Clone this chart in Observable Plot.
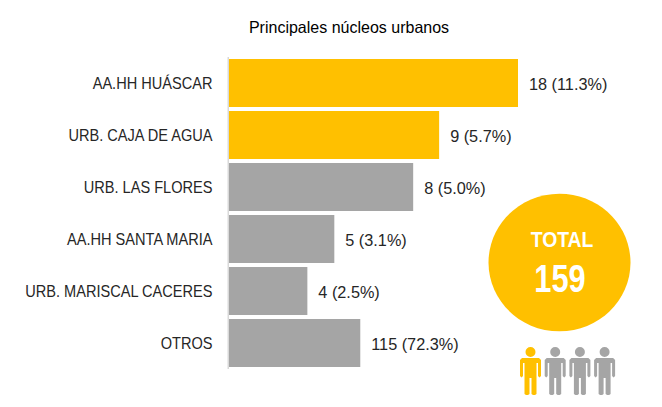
<!DOCTYPE html>
<html>
<head>
<meta charset="utf-8">
<script src="https://cdn.jsdelivr.net/npm/d3@7"></script>
<script src="https://cdn.jsdelivr.net/npm/@observablehq/plot@0.6"></script>
<style>
html,body{margin:0;padding:0;background:#fff}
svg{display:block}
</style>
</head>
<body>
<div id="chart"></div>
<script>
const title = "Principales núcleos urbanos";
const categories = ["AA.HH HUÁSCAR","URB. CAJA DE AGUA","URB. LAS FLORES","AA.HH SANTA MARIA","URB. MARISCAL CACERES","OTROS"];
const counts = [18,9,8,5,4,115];
const shares = ["11.3%","5.7%","5.0%","3.1%","2.5%","72.3%"];
// The reference's bars are not proportional to the counts: drawn lengths.
const drawnLengths = [290,211,185,106,79,132];
const highlighted = [true,true,false,false,false,false];
const totalLabel = "TOTAL";
const totalValue = "159";
const peopleHighlighted = [true,false,false,false];

const gold = "#FFC000", grey = "#A5A5A5", ink = "#262626";
const rows = categories.map((name,i)=>({name,len:drawnLengths[i],label:`${counts[i]} (${shares[i]})`,on:highlighted[i]}));

const person = {draw(c,size){
  const r = Math.sqrt(size/Math.PI), u = r/24;
  c.moveTo(5*u,-19*u); c.arc(0,-19*u,5*u,0,2*Math.PI);
  const path = [[-8.5,-13],[8.5,-13],[10.5,-11],[10.5,5],[9,6.5],[7.5,5],[7.5,-8],[6,-8],[6,23],[4.5,24],[2.5,24],[1,23],[1,7],[-1,7],[-1,23],[-2.5,24],[-4.5,24],[-6,23],[-6,-8],[-7.5,-8],[-7.5,5],[-9,6.5],[-10.5,5],[-10.5,-11]];
  path.forEach(([x,y],i)=> i? c.lineTo(x*u,y*u): c.moveTo(x*u,y*u));
  c.closePath();
}};
// The reference's disc is very slightly wider than tall.
const disc = {draw(c,size){
  const a = Math.sqrt(size/Math.PI), b = a*0.97, k = 0.5523;
  c.moveTo(a,0);
  c.bezierCurveTo(a,k*b,k*a,b,0,b);
  c.bezierCurveTo(-k*a,b,-a,k*b,-a,0);
  c.bezierCurveTo(-a,-k*b,-k*a,-b,0,-b);
  c.bezierCurveTo(k*a,-b,a,-k*b,a,0);
  c.closePath();
}};

const left = 228.5, top_ = 57;
const at = (x,y)=>({frameAnchor:"top-left",dx:x-left,dy:y-top_});

const plot = Plot.plot({
  width:662, height:407,
  marginLeft:left, marginRight:144, marginTop:top_, marginBottom:38,
  style:{background:"#fff",fontFamily:"'Liberation Sans',Arial,sans-serif",color:ink},
  x:{domain:[0,290],axis:null},
  y:{domain:categories,paddingInner:0.077,paddingOuter:0.038,label:null},
  marks:[
    Plot.axisY({tickSize:0,tickPadding:16.5,fontSize:16.5,label:null,textStroke:"none"}),
    Plot.barX(rows,{x:"len",y:"name",fill:d=>d.on?gold:grey}),
    Plot.ruleX([0],{stroke:"#D9D9D9",strokeWidth:1.5,dx:-0.75}),
    Plot.text(rows,{x:"len",y:"name",text:"label",textAnchor:"start",dx:10.5,dy:1,fontSize:16.5,fill:ink}),
    Plot.text([title],{...at(348.5,27),fontSize:16.5,fill:"#000",lineAnchor:"middle",textAnchor:"middle"}),
    Plot.dot([0],{...at(559,262),r:71,symbol:disc,fill:gold,stroke:null}),
    Plot.text([totalLabel],{...at(561.5,240),fontSize:21.5,fontWeight:"bold",fill:"#fff",lineAnchor:"middle",textAnchor:"middle"}),
    Plot.text([totalValue],{...at(559.5,279),fontSize:38,fontWeight:"bold",fill:"#fff",lineAnchor:"middle",textAnchor:"middle"}),
    ...peopleHighlighted.map((on,i)=>
      Plot.dot([i],{...at(530+i*24.7,370.5),r:24,symbol:person,fill:on?gold:grey,stroke:null}))
  ]
});
document.getElementById("chart").append(plot);

// The reference's type is horizontally condensed: squeeze each label's glyphs to match.
const fit = (t,k)=>{
  t.setAttribute("textLength",t.getComputedTextLength()*k);
  t.setAttribute("lengthAdjust","spacingAndGlyphs");
};
plot.querySelectorAll('[aria-label="y-axis tick label"] text').forEach(t=>fit(t,0.883));
const groups = plot.querySelectorAll('g[aria-label="text"]'); // values, title, TOTAL, 159
[0.985,0.97,0.9,0.81].forEach((k,i)=>groups[i].querySelectorAll("text").forEach(t=>fit(t,k)));
</script>
</body>
</html>
